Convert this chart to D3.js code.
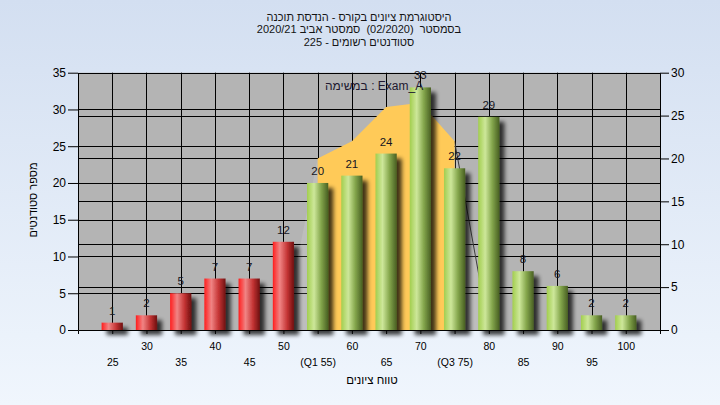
<!DOCTYPE html>
<html><head><meta charset="utf-8">
<script src="https://cdn.jsdelivr.net/npm/d3@7"></script>
<style>
html,body{margin:0;padding:0;overflow:hidden;background:#e4ecf7}
svg{display:block}
text{font-family:"Liberation Sans",Arial,sans-serif}
.ttl{white-space:pre}
</style>
</head><body>
<svg id="c" width="720" height="405"></svg>
<script>
// ---------- data ----------
const categories = ["25","30","35","40","45","50","55","60","65","70","75","80","85","90","95","100"];
const tickLabels = ["25","30","35","40","45","50","(Q1 55)","60","65","70","(Q3 75)","80","85","90","95","100"];
const counts = [1,2,5,7,7,12,20,21,24,33,22,29,8,6,2,2];
const barGroups = ["fail","fail","fail","fail","fail","fail","pass","pass","pass","pass","pass","pass","pass","pass","pass","pass"];
// inter-quartile band (right axis)
const iqrCats = ["55","60","65","70","75"];
const iqrValues = [20,22,26,26.5,22];
const lowTailCats = ["50","55"];
const lowTailValues = [0,20];
const highTailCats = ["75","80"];
const highTailValues = [22,0];
const leftTicks = [0,5,10,15,20,25,30,35];
const rightTicks = [0,5,10,15,20,25,30];
const titleLines = ["היסטוגרמת ציונים בקורס - הנדסת תוכנה","בסמסטר  (02/2020)  סמסטר אביב 2020/21","סטודנטים רשומים - 225"];
const legendText = "במשימה : Exam_A";
const xTitle = "טווח ציונים";
const yTitle = "מספר סטודנטים";

// ---------- layout ----------
const W = 720, H = 405;
const L = 78, R = 660, T = 72.7, B = 330;
const svg = d3.select("#c");
const defs = svg.append("defs");

const bg = defs.append("linearGradient").attr("id","bg").attr("x1",0).attr("y1",0).attr("x2",0).attr("y2",1);
bg.append("stop").attr("offset",0).attr("stop-color","#d3dff1");
bg.append("stop").attr("offset",1).attr("stop-color","#f0f6fd");

const gRed = defs.append("linearGradient").attr("id","gRed").attr("x1",0).attr("x2",1).attr("y1",0).attr("y2",0);
[[0,"#ff1e1e"],[0.33,"#f08484"],[0.68,"#c43434"],[1,"#6e1010"]].forEach(s=>gRed.append("stop").attr("offset",s[0]).attr("stop-color",s[1]));
const gGreen = defs.append("linearGradient").attr("id","gGreen").attr("x1",0).attr("x2",1).attr("y1",0).attr("y2",0);
[[0,"#a2ce4e"],[0.33,"#cde79a"],[0.66,"#84a64c"],[1,"#485f22"]].forEach(s=>gGreen.append("stop").attr("offset",s[0]).attr("stop-color",s[1]));

const f = defs.append("filter").attr("id","sh").attr("filterUnits","userSpaceOnUse")
  .attr("x",0).attr("y",0).attr("width",W).attr("height",H);
f.append("feGaussianBlur").attr("in","SourceAlpha").attr("stdDeviation",2.2).attr("result","b");
f.append("feOffset").attr("in","b").attr("dx",5).attr("dy",5).attr("result","o");
f.append("feComponentTransfer").attr("in","o").attr("result","o2")
  .append("feFuncA").attr("type","linear").attr("slope",0.75);
const fm = f.append("feMerge");
fm.append("feMergeNode").attr("in","o2");
fm.append("feMergeNode").attr("in","SourceGraphic");

svg.append("rect").attr("width",W).attr("height",H).attr("fill","url(#bg)");

// scales
const x = d3.scalePoint().domain(categories).range([L, R]).padding(1);
const yL = d3.scaleLinear().domain([0,35]).range([B, T]);
const yR = d3.scaleLinear().domain([0,30]).range([B, T]);
const bw = x.step()*0.62;

// plot area
svg.append("rect").attr("x",L).attr("y",T).attr("width",R-L).attr("height",B-T).attr("fill","#b4b4b4");

// grid
const grid = svg.append("g").attr("stroke","#000").attr("stroke-width",1);
const crisp = v => Math.round(v)+0.5;
leftTicks.filter(v=>v>0).forEach(v=>grid.append("line").attr("x1",L).attr("x2",R).attr("y1",crisp(yL(v))).attr("y2",crisp(yL(v))));
rightTicks.filter(v=>v>0).forEach(v=>grid.append("line").attr("x1",L).attr("x2",R).attr("y1",crisp(yR(v))).attr("y2",crisp(yR(v))));
categories.forEach(c=>grid.append("line").attr("x1",crisp(x(c))).attr("x2",crisp(x(c))).attr("y1",T).attr("y2",B));

// IQR band + tails
const area = d3.area().x(d=>x(d.c)).y0(yR(0)).y1(d=>yR(d.v));
const line = d3.line().x(d=>x(d.c)).y(d=>yR(d.v));
const zip = (cs,vs)=>cs.map((c,i)=>({c,v:vs[i]}));
svg.append("path").datum(zip(lowTailCats,lowTailValues)).attr("d",area).attr("fill","#fff").attr("fill-opacity",0.13);
svg.append("path").datum(zip(highTailCats,highTailValues)).attr("d",area).attr("fill","#fff").attr("fill-opacity",0.13);
svg.append("path").datum(zip(highTailCats,highTailValues)).attr("d",line).attr("fill","none").attr("stroke","#3c3c3c").attr("stroke-width",1);
svg.append("path").datum(zip(iqrCats,iqrValues)).attr("d",area).attr("fill","#ffca58");

// bars
const bars = svg.append("g").attr("filter","url(#sh)");
bars.selectAll("rect").data(categories).join("rect")
  .attr("x",c=>x(c)-bw/2).attr("width",bw)
  .attr("y",(c,i)=>yL(counts[i])).attr("height",(c,i)=>B-yL(counts[i]))
  .attr("fill",(c,i)=>barGroups[i]==="fail"?"url(#gRed)":"url(#gGreen)");

// value labels
svg.append("g").selectAll("text").data(categories).join("text")
  .attr("x",c=>x(c)).attr("y",(c,i)=>yL(counts[i])-8)
  .attr("text-anchor","middle").attr("font-size",11.5).attr("fill","#161622")
  .text((c,i)=>counts[i]);

// axes
const axL = svg.append("g").attr("transform",`translate(${L},0)`)
  .call(d3.axisLeft(yL).tickValues(leftTicks).tickSize(10).tickSizeOuter(0).tickPadding(2));
const axR = svg.append("g").attr("transform",`translate(${R},0)`)
  .call(d3.axisRight(yR).tickValues(rightTicks).tickSize(9).tickSizeOuter(0).tickPadding(2));
[axL,axR].forEach(a=>{a.selectAll("text").attr("font-size",12).attr("fill","#000").attr("font-family",'"Liberation Sans",Arial,sans-serif');
  a.selectAll("line,path").attr("stroke","#000");});
const axB = svg.append("g").attr("transform",`translate(0,${B})`)
  .call(d3.axisBottom(x).tickSize(4).tickSizeOuter(4).tickFormat((c,i)=>tickLabels[i]));
axB.selectAll("line,path").attr("stroke","#000");
axB.selectAll("text").attr("font-size",10.5).attr("fill","#000").attr("font-family",'"Liberation Sans",Arial,sans-serif')
  .attr("dy",0).attr("y",(c,i)=> i%2===1 ? 20 : 36);

// titles
svg.append("text").attr("x",(L+R)/2+3).attr("y",384).attr("text-anchor","middle")
  .attr("font-size",11.5).attr("fill","#000").text(xTitle);
svg.append("text").attr("transform","translate(33,200) rotate(-90)").attr("text-anchor","middle")
  .attr("dominant-baseline","central").attr("font-size",11).attr("fill","#000").text(yTitle);
svg.append("g").selectAll("text").data(titleLines).join("text").attr("class","ttl")
  .attr("x",359).attr("y",(d,i)=>21+i*12.3).attr("text-anchor","middle")
  .attr("font-size",11).attr("fill","#141414").text(d=>d);
svg.append("text").attr("x",325).attr("y",90).attr("font-size",12).attr("fill","#201830").text(legendText);
</script>
</body></html>
